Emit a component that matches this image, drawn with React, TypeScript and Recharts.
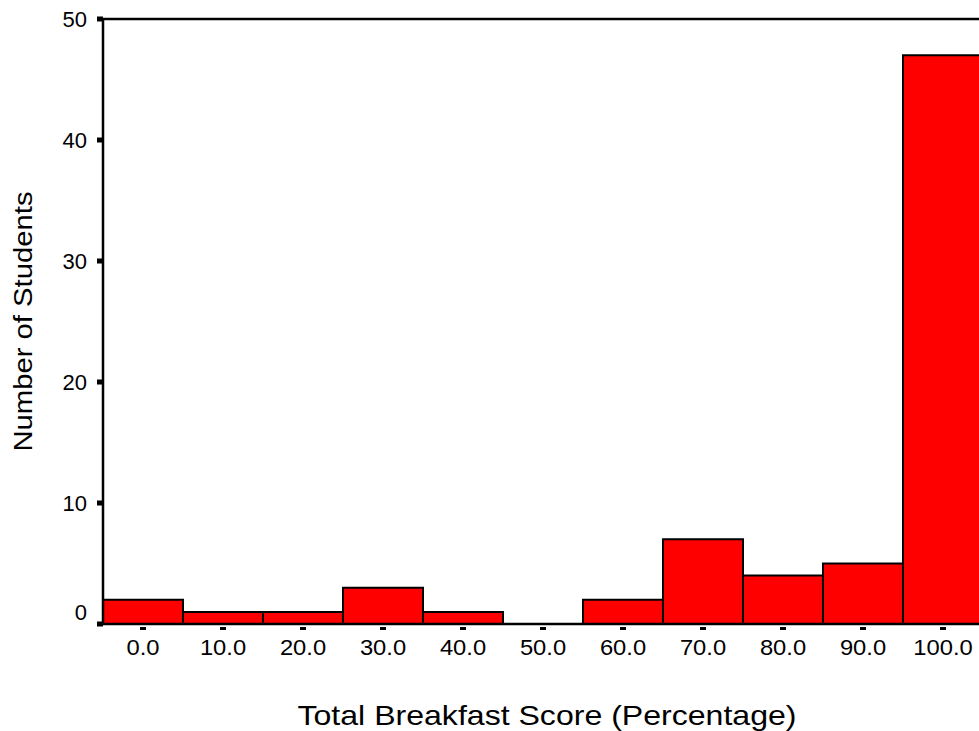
import { BarChart, Bar, XAxis, YAxis, ReferenceLine } from "recharts";

// histogram bins (percentage) and counts
const scoreBins = ["0.0", "10.0", "20.0", "30.0", "40.0", "50.0", "60.0", "70.0", "80.0", "90.0", "100.0"];
const studentCounts = [2, 1, 1, 3, 1, 0, 2, 7, 4, 5, 47];
const yTicks = [0, 10, 20, 30, 40, 50];

const data = scoreBins.map((bin, i) => ({ bin, count: studentCounts[i] }));

const FONT = "'Liberation Sans', Arial, Helvetica, sans-serif";

function XTick(props: any) {
  const { x, y, payload } = props;
  return (
    <g transform={`translate(${x},${y})`}>
      <rect x={-3} y={3} width={6} height={3} fill="#000" />
      <text
        transform="scale(1.08,1)"
        y={31}
        textAnchor="middle"
        fontFamily={FONT}
        fontSize={22}
        fill="#000"
      >
        {payload.value}
      </text>
    </g>
  );
}

function YTick(props: any) {
  const { x, y, payload } = props;
  const lift = payload.value === 0 ? -12 : 0;
  return (
    <g>
      <rect x={x - 6} y={y - 2.5} width={6} height={5} fill="#000" />
      <text
        x={x - 16}
        y={y + 8 + lift}
        textAnchor="end"
        fontFamily={FONT}
        fontSize={22}
        fill="#000"
      >
        {payload.value}
      </text>
    </g>
  );
}

export default function App() {
  return (
    <div
      style={{
        position: "absolute",
        left: 0,
        top: 0,
        width: 979,
        height: 731,
        overflow: "hidden",
        background: "#fff",
      }}
    >
      <BarChart
        width={1000}
        height={731}
        data={data}
        margin={{ top: 19, right: 17, bottom: 0, left: 0 }}
        barCategoryGap={0}
      >
        <XAxis
          dataKey="bin"
          height={107}
          tickSize={0}
          tickMargin={0}
          tickLine={false}
          axisLine={{ stroke: "#000", strokeWidth: 2.5 }}
          tick={<XTick />}
          interval={0}
          label={{
            content: (p: any) => {
              const vb = p.viewBox;
              return (
                <text
                  x={vb.x + vb.width / 2 + 4}
                  y={vb.y + 101}
                  textAnchor="middle"
                  fontFamily={FONT}
                  fontSize={28}
                  textLength={499}
                  lengthAdjust="spacingAndGlyphs"
                  fill="#000"
                >
                  Total Breakfast Score (Percentage)
                </text>
              );
            },
          }}
        />
        <YAxis
          width={103}
          domain={[0, 50]}
          ticks={yTicks}
          tickSize={0}
          tickMargin={0}
          tickLine={false}
          axisLine={{ stroke: "#000", strokeWidth: 2.5 }}
          tick={<YTick />}
          interval={0}
          label={{
            content: (p: any) => {
              const vb = p.viewBox;
              const cy = vb.y + vb.height / 2;
              return (
                <text
                  x={32}
                  y={cy}
                  transform={`rotate(-90, 32, ${cy})`}
                  textAnchor="middle"
                  fontFamily={FONT}
                  fontSize={26}
                  textLength={260}
                  lengthAdjust="spacingAndGlyphs"
                  fill="#000"
                >
                  Number of Students
                </text>
              );
            },
          }}
        />
        <ReferenceLine y={50} stroke="#000" strokeWidth={2.5} />
        <Bar
          dataKey="count"
          fill="#ff0000"
          stroke="#000"
          strokeWidth={2}
          isAnimationActive={false}
        />
      </BarChart>
    </div>
  );
}
